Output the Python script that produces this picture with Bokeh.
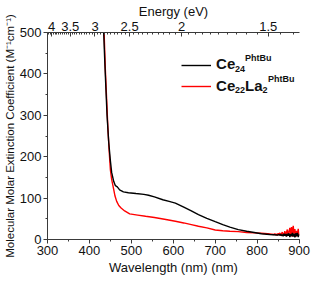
from bokeh.plotting import figure
from bokeh.models import (Range1d, LinearAxis, FixedTicker, SingleIntervalTicker,
                          CustomJSTickFormatter, Legend, LegendItem, Label)
from bokeh.embed import file_html
from bokeh.resources import INLINE
import numpy as np

# ---------------- data ----------------
ce24_wl = [433, 434, 437, 440, 442, 446, 450, 453, 458, 462, 466.5, 472, 481, 493,
           511, 530, 541, 555, 575, 590, 605, 625, 643, 660, 680, 700, 718, 735,
           755, 775, 793, 810, 830, 848,
           850, 852, 854, 856, 858, 860, 862, 864, 866, 868, 870, 872, 874, 876,
           878, 880, 882, 884, 886, 888, 890, 892, 894, 896, 898, 900]
ce24_eps = [515, 500, 420, 348, 300, 235, 190, 162, 140, 130, 127, 120, 115, 113,
            111, 109, 107, 103, 96, 92, 88, 78, 69, 60, 51, 43, 36, 30,
            24, 20, 17, 14, 12, 11,
            11, 12, 10, 13, 9, 12, 8, 14, 9, 13, 7, 14, 9, 15,
            6, 13, 8, 16, 7, 14, 5, 15, 8, 16, 6, 12]

ce22la2_wl = [434, 435, 438, 441, 444, 447, 450, 453, 457.5, 461, 465, 470, 475.5,
              484, 496, 515, 534, 555, 579, 605, 625, 643, 660, 680, 700, 718,
              735, 755, 775, 793, 810, 825,
              840, 842, 844, 846, 848, 850, 852, 854, 856, 858, 860, 862, 864,
              866, 868, 870, 872, 874, 876, 878, 880, 882, 884, 886, 888, 890,
              892, 894, 896, 898, 900]
ce22la2_eps = [515, 500, 410, 340, 270, 215, 168, 145, 123, 105, 92, 82, 76,
               69, 62, 59, 56, 53, 49, 44, 40, 36, 32, 28, 23, 21,
               20, 19, 17, 16, 15, 14,
               12, 14, 11, 13, 10, 15, 11, 16, 9, 14, 18, 10, 13,
               20, 8, 17, 24, 9, 19, 28, 11, 30, 7, 33, 14, 25,
               6, 21, 12, 26, 10]

energy_major = [4, 3.5, 3, 2.5, 2, 1.5]
HC = 1239.84  # eV*nm

FONT = "Liberation Sans"
AXIS_COL = "#3a3a3a"
TXT_COL = "#111111"

p = figure(width=311, height=277, output_backend="svg", toolbar_location=None,
           x_range=Range1d(300, 901), y_range=Range1d(0, 500),
           min_border_left=40, min_border_right=12, min_border_top=26,
           min_border_bottom=36)
p.outline_line_color = None
p.grid.visible = False
p.background_fill_color = "white"

r_red = p.line(ce22la2_wl, ce22la2_eps, line_color="#ff0000", line_width=1.4)
r_blk = p.line(ce24_wl, ce24_eps, line_color="#000000", line_width=1.4)

# bottom axis
xa = p.xaxis[0]
xa.ticker = SingleIntervalTicker(interval=100, num_minor_ticks=2)
xa.axis_label = "Wavelength (nm) (nm)"
# left axis
ya = p.yaxis[0]
ya.ticker = SingleIntervalTicker(interval=100, num_minor_ticks=2)
ya.axis_label = "Molecular Molar Extinction Coefficient (M\u207b\u00b9cm\u207b\u00b9)"

for ax in (xa, ya):
    ax.axis_line_color = AXIS_COL
    ax.major_tick_line_color = AXIS_COL
    ax.minor_tick_line_color = AXIS_COL
    ax.major_tick_out = 4
    ax.major_tick_in = 0
    ax.minor_tick_out = 2
    ax.minor_tick_in = 0
    ax.major_label_text_font = FONT
    ax.major_label_text_font_size = "13px"
    ax.major_label_text_color = TXT_COL
    ax.axis_label_text_font = FONT
    ax.axis_label_text_font_style = "normal"
    ax.axis_label_text_color = TXT_COL
    ax.major_label_standoff = 2

xa.axis_label_text_font_size = "13px"
xa.axis_label_standoff = 2
ya.axis_label_text_font_size = "11.5px"
ya.axis_label_standoff = 1

# top (energy) axis
minor_E = np.round(np.arange(4.10, 1.375, -0.05), 2)
top = LinearAxis(
    ticker=FixedTicker(ticks=[HC / e for e in energy_major],
                       minor_ticks=[HC / e for e in minor_E if e not in energy_major]),
    formatter=CustomJSTickFormatter(code="return String(Math.round(1239.84/tick*100)/100);"),
    axis_label="Energy (eV)")
top.axis_line_color = AXIS_COL
top.major_tick_line_color = AXIS_COL
top.minor_tick_line_color = AXIS_COL
top.major_tick_in = 4
top.major_tick_out = 0
top.minor_tick_in = 2
top.minor_tick_out = 0
top.major_label_text_font = FONT
top.major_label_text_font_size = "13px"
top.major_label_text_color = TXT_COL
top.major_label_standoff = 2
top.axis_label_text_font = FONT
top.axis_label_text_font_size = "13px"
top.axis_label_text_font_style = "normal"
top.axis_label_text_color = TXT_COL
top.axis_label_standoff = 0
p.add_layout(top, "above")

# legend (sample lines) + rich text labels
leg = Legend(items=[LegendItem(label=" ", renderers=[r_blk]),
                    LegendItem(label=" ", renderers=[r_red])],
             location=(134, 143), glyph_width=30, glyph_height=20,
             label_height=20, label_width=1, spacing=1, padding=0, margin=0,
             label_text_font_size="1px", border_line_alpha=0,
             background_fill_alpha=0)
p.add_layout(leg)

LX = 702
ROWS = [425, 373]
pieces = [
    # (row, text, x_offset, y_offset, size)
    (0, "Ce", 0, 0, "15px"), (0, "24", 19, -5, "9px"), (0, "PhtBu", 29, 6, "9px"),
    (1, "Ce", 0, 0, "15px"), (1, "22", 19, -5, "9px"), (1, "La", 29, 0, "15px"),
    (1, "2", 46.5, -5, "9px"), (1, "PhtBu", 52, 6, "9px"),
]
for row, txt, dx, dy, sz in pieces:
    p.add_layout(Label(x=LX, y=ROWS[row], x_offset=dx, y_offset=dy, text=txt,
                       text_font=FONT, text_font_style="bold", text_font_size=sz,
                       text_baseline="middle", text_align="left",
                       text_color=TXT_COL))

open("out.html", "w").write(file_html(p, INLINE))
